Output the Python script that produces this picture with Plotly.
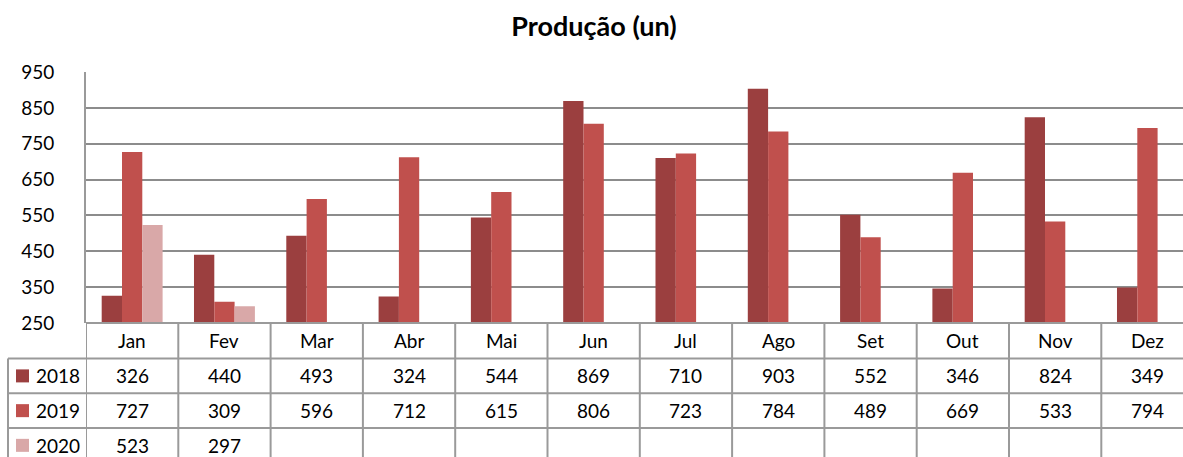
import plotly.graph_objects as go

months = ["Jan", "Fev", "Mar", "Abr", "Mai", "Jun", "Jul", "Ago", "Set", "Out", "Nov", "Dez"]
series_names = ["2018", "2019", "2020"]
v2018 = [326, 440, 493, 324, 544, 869, 710, 903, 552, 346, 824, 349]
v2019 = [727, 309, 596, 712, 615, 806, 723, 784, 489, 669, 533, 794]
v2020 = [523, 297, None, None, None, None, None, None, None, None, None, None]
colors = ["#9B3F3F", "#C0504D", "#D9A8A8"]

W, H = 1183, 457
ML, MT, MB = 86, 72, 134
plot_w = W - ML
plot_h = H - MT - MB
cat_w = 92.3
x_end = -0.5 + plot_w / cat_w

FONT = "Lato"
line_col = "#9A9A9A"

fig = go.Figure()
xs = list(range(len(months)))
for name, vals, c in zip(series_names, [v2018, v2019, v2020], colors):
    fig.add_trace(go.Bar(x=xs, y=vals, name=name, marker=dict(color=c, line=dict(width=0)),
                         showlegend=False))

def py2paper(py):
    return (H - MB - py) / plot_h

row_lines = [323, 358.5, 393.3, 428, 462.7]
shapes = []
annotations = []
shapes.append(dict(type="line", xref="paper", yref="paper", x0=0, x1=1.02,
                   y0=py2paper(row_lines[0]), y1=py2paper(row_lines[0]),
                   line=dict(color=line_col, width=2)))
for py in row_lines[1:]:
    shapes.append(dict(type="line", xref="paper", yref="paper", x0=(8 - ML) / plot_w, x1=1.02,
                       y0=py2paper(py), y1=py2paper(py), line=dict(color=line_col, width=2)))
for k in range(len(months) + 1):
    xv = k - 0.5
    shapes.append(dict(type="line", xref="x", yref="paper", x0=xv, x1=xv,
                       y0=py2paper(row_lines[0]), y1=py2paper(470),
                       line=dict(color=line_col, width=2)))
shapes.append(dict(type="line", xref="paper", yref="paper", x0=(8 - ML) / plot_w, x1=(8 - ML) / plot_w,
                   y0=py2paper(row_lines[1]), y1=py2paper(470), line=dict(color=line_col, width=2)))

for i, m in enumerate(months):
    annotations.append(dict(x=i, y=py2paper((row_lines[0] + row_lines[1]) / 2), xref="x", yref="paper",
                            text=m, showarrow=False, font=dict(family=FONT, size=19, color="#000"),
                            xanchor="center", yanchor="middle"))
for r, (name, vals, c) in enumerate(zip(series_names, [v2018, v2019, v2020], colors)):
    yc = (row_lines[r + 1] + row_lines[r + 2]) / 2
    for i, v in enumerate(vals):
        if v is not None:
            annotations.append(dict(x=i, y=py2paper(yc), xref="x", yref="paper", text=str(v),
                                    showarrow=False, font=dict(family=FONT, size=19, color="#000"),
                                    xanchor="center", yanchor="middle"))
    shapes.append(dict(type="rect", xref="paper", yref="paper",
                       x0=(16 - ML) / plot_w, x1=(29 - ML) / plot_w,
                       y0=py2paper(yc + 6.5), y1=py2paper(yc - 6.5),
                       fillcolor=c, line=dict(width=0)))
    annotations.append(dict(x=(34 - ML) / plot_w, y=py2paper(yc), xref="paper", yref="paper", text=name,
                            showarrow=False, font=dict(family=FONT, size=19, color="#000"),
                            xanchor="left", yanchor="middle"))

fig.update_layout(
    width=W, height=H,
    margin=dict(l=ML, r=0, t=MT, b=MB),
    paper_bgcolor="white", plot_bgcolor="white",
    barmode="group", bargap=0.34, bargroupgap=0,
    title=dict(text="<b>Produção (un)</b>", x=594 / W, xanchor="center", y=1 - 27 / H, yanchor="middle",
               font=dict(family=FONT, size=27, color="#000")),
    xaxis=dict(range=[-0.5, x_end], showticklabels=False, showgrid=False, zeroline=False,
               showline=False, ticks=""),
    yaxis=dict(range=[250, 950], tick0=250, dtick=100, showgrid=True, gridcolor="#8C8C8C", gridwidth=1.5,
               zeroline=False, showline=True, linecolor=line_col, linewidth=2,
               ticks="", ticklabelstandoff=26,
               tickfont=dict(family=FONT, size=19, color="#000")),
    shapes=shapes, annotations=annotations,
    font=dict(family=FONT),
)

fig.write_html("out.html", config={"displayModeBar": False},
               post_script="document.body.style.margin='0';document.body.style.overflow='hidden';")
